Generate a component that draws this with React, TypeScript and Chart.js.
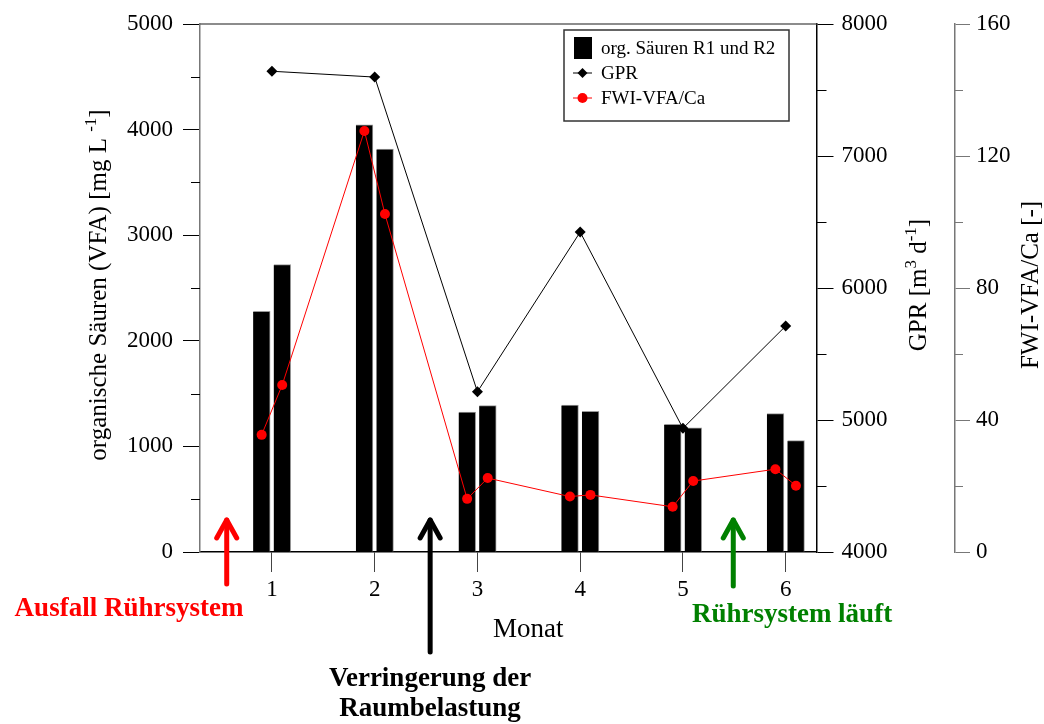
import React, { useEffect, useRef } from 'react';
import { Chart, registerables } from 'chart.js';

Chart.register(...registerables);

// ---------- data ----------
const months = [1, 2, 3, 4, 5, 6];
const monthLabels = ['1', '2', '3', '4', '5', '6'];
const vfaR1 = [2279, 4044, 1326, 1392, 1209, 1310];
const vfaR2 = [2721, 3816, 1386, 1332, 1177, 1054];
const gpr = [7642, 7598, 5214, 6424, 4937, 5712];
const fwiR1 = [35.5, 127.6, 16.1, 16.8, 13.7, 25.1];
const fwiR2 = [50.6, 102.4, 22.4, 17.3, 21.5, 20.1];
const r1Offset = -0.1;
const r2Offset = 0.1;

const legendLabels = ['org. Säuren R1 und R2', 'GPR', 'FWI-VFA/Ca'];
const vfaMinor = [500, 1500, 2500, 3500, 4500];
const gprMinor = [4500, 5500, 6500, 7500];
const fwiMinor = [20, 60, 100, 140];

// annotations (x in month units)
const arrowX = [0.56, 2.54, 5.49];
const arrowColors = ['#ff0000', '#000000', '#008000'];
const arrowTailOffset = [32, 100, 34];

const SERIF = '"Liberation Serif", "Times New Roman", serif';

type Part = { t: string; sup?: boolean };

function drawRich(ctx: CanvasRenderingContext2D, parts: Part[], cx: number, cy: number, size: number) {
  ctx.save();
  ctx.translate(cx, cy);
  ctx.rotate(-Math.PI / 2);
  ctx.fillStyle = '#000';
  ctx.textBaseline = 'alphabetic';
  ctx.textAlign = 'left';
  const nf = `${size}px ${SERIF}`;
  const sf = `${Math.round(size * 0.68)}px ${SERIF}`;
  let total = 0;
  const widths = parts.map((p) => {
    ctx.font = p.sup ? sf : nf;
    const w = ctx.measureText(p.t).width;
    total += w;
    return w;
  });
  let x = -total / 2;
  const base = size * 0.33;
  parts.forEach((p, i) => {
    ctx.font = p.sup ? sf : nf;
    ctx.fillText(p.t, x, p.sup ? base - size * 0.4 : base);
    x += widths[i];
  });
  ctx.restore();
}

const overlay = {
  id: 'overlay',
  afterDraw(chart: any) {
    const ctx: CanvasRenderingContext2D = chart.ctx;
    const ca = chart.chartArea;
    const sx = chart.scales.x;
    const sy = chart.scales.y;
    const sy1 = chart.scales.y1;
    const sy2 = chart.scales.y2;
    ctx.save();
    // top frame line
    ctx.strokeStyle = '#666';
    ctx.lineWidth = 1.5;
    ctx.beginPath();
    ctx.moveTo(ca.left, ca.top);
    ctx.lineTo(ca.right, ca.top);
    ctx.stroke();
    // minor ticks
    ctx.lineWidth = 1;
    ctx.strokeStyle = '#000';
    vfaMinor.forEach((v) => {
      const y = Math.round(sy.getPixelForValue(v)) + 0.5;
      ctx.beginPath();
      ctx.moveTo(ca.left - 9, y);
      ctx.lineTo(ca.left, y);
      ctx.stroke();
    });
    gprMinor.forEach((v) => {
      const y = Math.round(sy1.getPixelForValue(v)) + 0.5;
      ctx.beginPath();
      ctx.moveTo(sy1.left, y);
      ctx.lineTo(sy1.left + 10, y);
      ctx.stroke();
    });
    ctx.strokeStyle = '#777';
    fwiMinor.forEach((v) => {
      const y = Math.round(sy2.getPixelForValue(v)) + 0.5;
      ctx.beginPath();
      ctx.moveTo(sy2.left, y);
      ctx.lineTo(sy2.left + 8, y);
      ctx.stroke();
    });

    // axis titles
    drawRich(ctx, [{ t: 'organische Säuren (VFA) [mg L ' }, { t: '-1', sup: true }, { t: ']' }], 98, 285, 25);
    drawRich(ctx, [{ t: 'GPR [m' }, { t: '3', sup: true }, { t: ' d' }, { t: '-1', sup: true }, { t: ']' }], 918, 285, 25);
    drawRich(ctx, [{ t: 'FWI-VFA/Ca [-]' }], 1030, 285, 25);

    ctx.fillStyle = '#000';
    ctx.textAlign = 'center';
    ctx.textBaseline = 'alphabetic';
    ctx.font = `27px ${SERIF}`;
    ctx.fillText('Monat', (sx.left + sx.right) / 2 + 20, 637);

    // legend
    const lx = 564, ly = 30, lw = 225, lh = 91;
    ctx.fillStyle = '#fff';
    ctx.fillRect(lx, ly, lw, lh);
    ctx.strokeStyle = '#333';
    ctx.lineWidth = 1.5;
    ctx.strokeRect(lx, ly, lw, lh);
    const rows = [48, 73, 98];
    ctx.font = `19px ${SERIF}`;
    ctx.textAlign = 'left';
    ctx.textBaseline = 'middle';
    ctx.fillStyle = '#000';
    ctx.fillRect(574, rows[0] - 11, 18, 22);
    // GPR
    ctx.strokeStyle = '#000';
    ctx.lineWidth = 1;
    ctx.beginPath();
    ctx.moveTo(573, rows[1]);
    ctx.lineTo(592, rows[1]);
    ctx.stroke();
    ctx.beginPath();
    ctx.moveTo(582.5, rows[1] - 5);
    ctx.lineTo(587.5, rows[1]);
    ctx.lineTo(582.5, rows[1] + 5);
    ctx.lineTo(577.5, rows[1]);
    ctx.closePath();
    ctx.fill();
    // FWI
    ctx.strokeStyle = '#ff0000';
    ctx.fillStyle = '#ff0000';
    ctx.beginPath();
    ctx.moveTo(573, rows[2]);
    ctx.lineTo(592, rows[2]);
    ctx.stroke();
    ctx.beginPath();
    ctx.arc(582.5, rows[2], 5, 0, Math.PI * 2);
    ctx.fill();
    ctx.fillStyle = '#000';
    legendLabels.forEach((l, i) => ctx.fillText(l, 601, rows[i] + 1));

    // arrows
    arrowX.forEach((v, i) => {
      const x = sx.getPixelForValue(v);
      const tip = ca.bottom - 34;
      const tail = ca.bottom + arrowTailOffset[i];
      ctx.strokeStyle = arrowColors[i];
      ctx.lineWidth = 5;
      ctx.lineCap = 'round';
      ctx.lineJoin = 'round';
      ctx.beginPath();
      ctx.moveTo(x, tail);
      ctx.lineTo(x, tip + 2);
      ctx.stroke();
      ctx.beginPath();
      ctx.moveTo(x - 10, tip + 20);
      ctx.lineTo(x, tip + 2);
      ctx.lineTo(x + 10, tip + 20);
      ctx.stroke();
    });

    // annotation texts
    ctx.textAlign = 'center';
    ctx.textBaseline = 'alphabetic';
    ctx.font = `bold 27px ${SERIF}`;
    ctx.fillStyle = '#ff0000';
    ctx.fillText('Ausfall Rührsystem', 129, 616);
    ctx.fillStyle = '#000';
    ctx.fillText('Verringerung der', 430, 686);
    ctx.fillText('Raumbelastung', 430, 716);
    ctx.fillStyle = '#008000';
    ctx.fillText('Rührsystem läuft', 792, 622);
    ctx.restore();
  },
};

export default function App() {
  const ref = useRef<HTMLCanvasElement | null>(null);
  useEffect(() => {
    document.body.style.margin = '0';
    const canvas = ref.current;
    if (!canvas) return;
    const barR1 = months.map((m, i) => ({ x: m + r1Offset, y: vfaR1[i] }));
    const barR2 = months.map((m, i) => ({ x: m + r2Offset, y: vfaR2[i] }));
    const gprPts = months.map((m, i) => ({ x: m, y: gpr[i] }));
    const fwiPts: { x: number; y: number }[] = [];
    months.forEach((m, i) => {
      fwiPts.push({ x: m + r1Offset, y: fwiR1[i] });
      fwiPts.push({ x: m + r2Offset, y: fwiR2[i] });
    });
    const tickFont = { family: SERIF, size: 23 };
    const plain = (v: any) => String(v);
    const chart = new Chart(canvas, {
      type: 'bar',
      data: {
        datasets: [
          {
            type: 'line',
            label: legendLabels[1],
            data: gprPts,
            yAxisID: 'y1',
            borderColor: '#000',
            backgroundColor: '#000',
            borderWidth: 1,
            pointStyle: 'rectRot',
            pointRadius: 5.5,
            pointBorderWidth: 0,
            order: 0,
          } as any,
          {
            type: 'line',
            label: legendLabels[2],
            data: fwiPts,
            yAxisID: 'y2',
            borderColor: '#ff0000',
            backgroundColor: '#ff0000',
            borderWidth: 1,
            pointStyle: 'circle',
            pointRadius: 5,
            pointBorderWidth: 0,
            order: 0,
          } as any,
          {
            type: 'bar',
            label: 'R1',
            data: barR1,
            yAxisID: 'y',
            backgroundColor: '#000',
            borderColor: '#999',
            borderWidth: { top: 1, right: 1, left: 0, bottom: 0 },
            barThickness: 17,
            grouped: false,
            order: 2,
          } as any,
          {
            type: 'bar',
            label: 'R2',
            data: barR2,
            yAxisID: 'y',
            backgroundColor: '#000',
            borderColor: '#999',
            borderWidth: { top: 1, right: 1, left: 0, bottom: 0 },
            barThickness: 17,
            grouped: false,
            order: 2,
          } as any,
        ],
      },
      options: {
        responsive: false,
        animation: false,
        layout: { padding: { top: 24, left: 0, right: 0, bottom: 0 } },
        plugins: { legend: { display: false }, tooltip: { enabled: false } },
        scales: {
          x: {
            type: 'linear',
            min: 0.3,
            max: 6.3,
            offset: false,
            bounds: 'data',
            afterBuildTicks: (s: any) => {
              s.ticks = months.map((v) => ({ value: v }));
            },
            afterFit: (s: any) => {
              s.height = 172;
            },
            ticks: {
              font: tickFont,
              color: '#000',
              padding: 4,
              maxRotation: 0,
              autoSkip: false,
              callback: (v: any) => {
                const i = months.indexOf(Number(v));
                return i >= 0 ? monthLabels[i] : '';
              },
            },
            grid: { display: true, drawOnChartArea: false, drawTicks: true, tickLength: 20, color: '#444', offset: false },
            border: { display: true, color: '#000', width: 1.5 },
          },
          y: {
            type: 'linear',
            position: 'left',
            min: 0,
            max: 5000,
            afterFit: (s: any) => {
              s.width = 200;
            },
            ticks: { stepSize: 1000, font: tickFont, color: '#000', padding: 10, callback: plain },
            grid: { display: true, drawOnChartArea: false, drawTicks: true, tickLength: 17, color: '#000' },
            border: { display: true, color: '#777', width: 1.5 },
          },
          y1: {
            type: 'linear',
            position: 'right',
            min: 4000,
            max: 8000,
            afterFit: (s: any) => {
              s.width = 138.5;
            },
            ticks: { stepSize: 1000, font: tickFont, color: '#000', padding: 8, callback: plain },
            grid: { display: true, drawOnChartArea: false, drawTicks: true, tickLength: 17, color: '#000' },
            border: { display: true, color: '#000', width: 1.5 },
          },
          y2: {
            type: 'linear',
            position: 'right',
            min: 0,
            max: 160,
            afterFit: (s: any) => {
              s.width = 89;
            },
            ticks: { stepSize: 40, font: tickFont, color: '#000', padding: 6, callback: plain },
            grid: { display: true, drawOnChartArea: false, drawTicks: true, tickLength: 15, color: '#777' },
            border: { display: true, color: '#777', width: 1.5 },
          },
        },
      } as any,
      plugins: [overlay],
    });
    return () => chart.destroy();
  }, []);
  return (
    <div style={{ width: 1044, height: 724 }}>
      <canvas ref={ref} width={1044} height={724} style={{ display: 'block' }} />
    </div>
  );
}
